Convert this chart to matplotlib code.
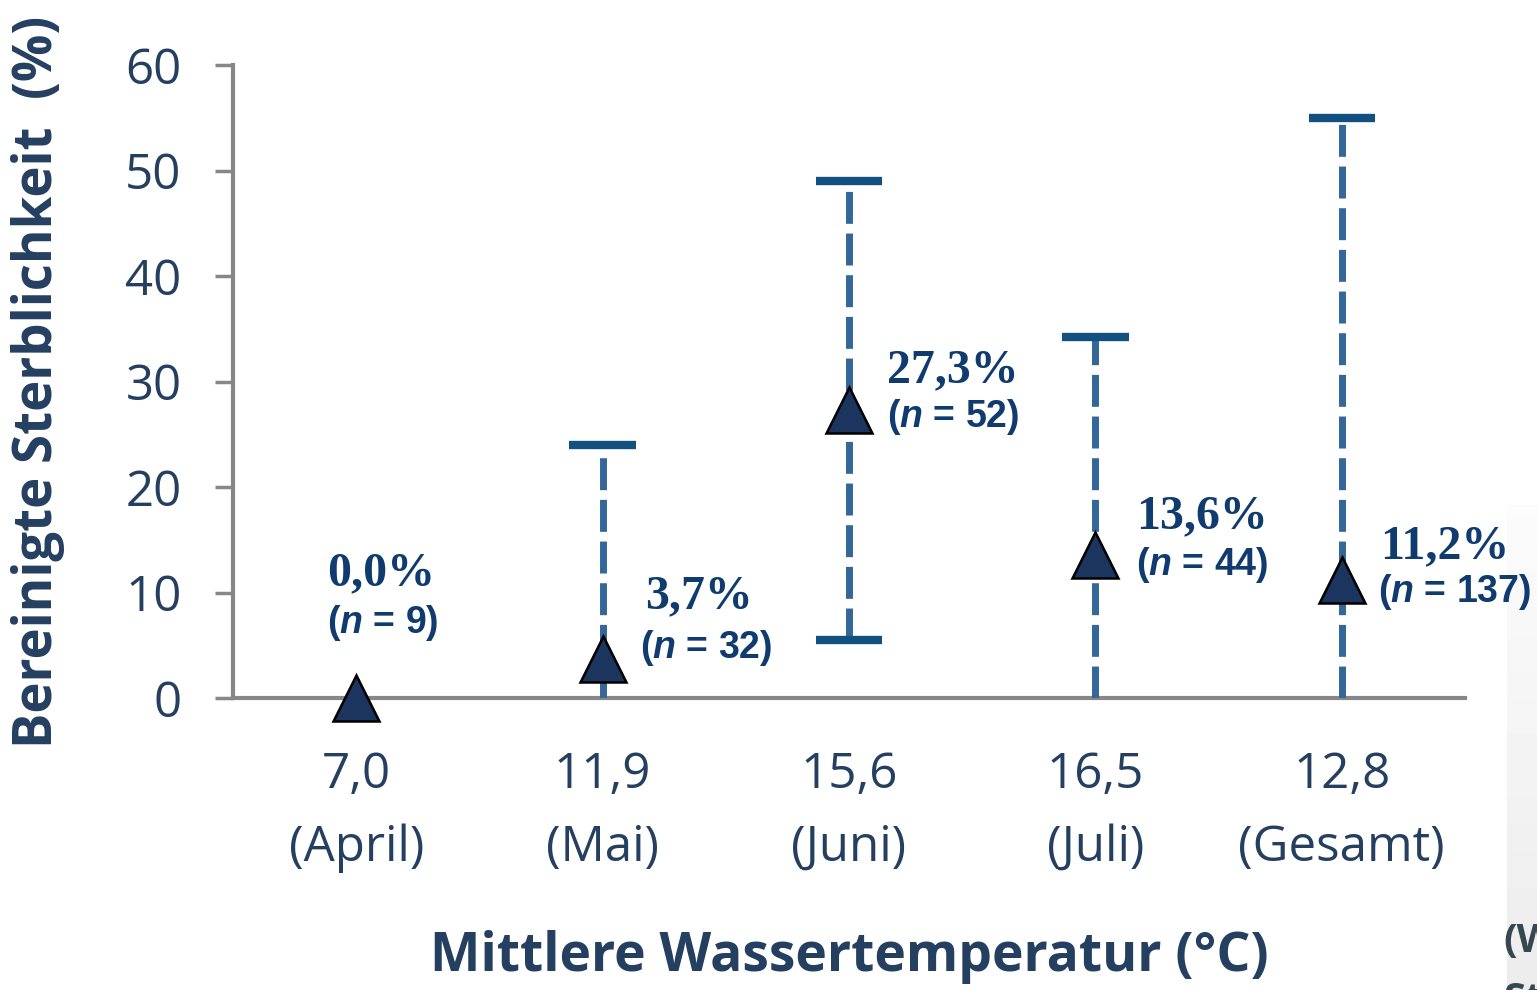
import numpy as np
import matplotlib
matplotlib.use('Agg')
import matplotlib.pyplot as plt

# Daten
kategorien = ["7,0\n(April)", "11,9\n(Mai)", "15,6\n(Juni)", "16,5\n(Juli)", "12,8\n(Gesamt)"]
sterblichkeit = [0.0, 3.7, 27.3, 13.6, 11.2]
n_werte = [9, 32, 52, 44, 137]
ki_unten = [None, 0.0, 5.5, 0.0, 0.0]
ki_oben = [None, 24.0, 49.0, 34.2, 55.0]

# Beschriftungs-Versatz in Pixeln (Prozent, n)
versatz_pct = [(-29, 113), (42, 51), (38, 28), (41, 26), (38, 22)]
versatz_n = [(-29, 65), (37, 1), (38, -17), (41, -20), (36, -22)]

plt.rcParams['mathtext.fontset'] = 'custom'
plt.rcParams['mathtext.it'] = 'Liberation Sans:italic:bold'
plt.rcParams['mathtext.rm'] = 'Liberation Sans:bold'

achse_farbe = '#878787'
text_farbe = '#243f60'
label_farbe = '#0f3b6f'
dash_farbe = '#336699'
cap_farbe = '#12507f'
dreieck_farbe = '#1c355e'

fig = plt.figure(figsize=(15.37, 9.90), dpi=100)

# grauer Rand rechts (Ausschnitt der Folie), hinter allem
rand = fig.add_axes([1507 / 1537, 0, 30 / 1537, 485 / 990], zorder=-1)
verlauf = np.linspace(0.985, 0.925, 100).reshape(-1, 1)
rand.imshow(verlauf, cmap='gray', vmin=0, vmax=1, aspect='auto')
rand.set_axis_off()

ax = fig.add_axes([233 / 1537, 292 / 990, 1232 / 1537, 633 / 990])
ax.patch.set_alpha(0)

x = np.arange(len(kategorien))

# Konfidenzintervalle
for i in range(len(x)):
    if ki_oben[i] is None:
        continue
    ax.plot([x[i], x[i]], [ki_unten[i], ki_oben[i]], color=dash_farbe, lw=5,
            dashes=(4.6, 1.4), solid_capstyle='butt', dash_capstyle='butt', zorder=2)
    ax.plot([x[i] - 0.135, x[i] + 0.135], [ki_oben[i], ki_oben[i]], color=cap_farbe,
            lw=6, solid_capstyle='butt', zorder=3)
    if ki_unten[i] > 0:
        ax.plot([x[i] - 0.135, x[i] + 0.135], [ki_unten[i], ki_unten[i]], color=cap_farbe,
                lw=6, solid_capstyle='butt', zorder=3)

ax.plot(x, sterblichkeit, linestyle='none', marker='^', markersize=33,
        markerfacecolor=dreieck_farbe, markeredgecolor='black', markeredgewidth=1.8,
        zorder=5, clip_on=False)

for i in range(len(x)):
    pct = f"{sterblichkeit[i]:.1f}".replace('.', ',') + '%'
    ax.annotate(pct, (x[i], sterblichkeit[i]), xytext=versatz_pct[i], textcoords='offset pixels',
                ha='left', va='baseline', fontsize=34.5, fontweight='bold',
                family='Liberation Serif', color=label_farbe, zorder=6)
    ax.annotate("(" + r"$n$" + f" = {n_werte[i]})", (x[i], sterblichkeit[i]), xytext=versatz_n[i],
                textcoords='offset pixels', ha='left', va='baseline', fontsize=27,
                fontweight='bold', family='Liberation Sans', color=label_farbe, zorder=6)

ax.set_xlim(-0.5, 4.5)
ax.set_ylim(0, 60)
ax.set_yticks([0, 10, 20, 30, 40, 50, 60])
ax.set_xticks(x)
ax.set_xticklabels(kategorien, linespacing=1.62)

for s in ['top', 'right']:
    ax.spines[s].set_visible(False)
for s in ['left', 'bottom']:
    ax.spines[s].set_color(achse_farbe)
    ax.spines[s].set_linewidth(3)
    ax.spines[s].set_zorder(1)

ax.tick_params(axis='y', direction='out', length=13, width=2.5, color=achse_farbe,
               pad=24, labelsize=35.5, labelcolor=text_farbe)
ax.tick_params(axis='x', length=0, pad=38, labelsize=35.5, labelcolor=text_farbe)
for t in ax.get_xticklabels() + ax.get_yticklabels():
    t.set_family('Open Sans')

fig.text(38 / 1537, 1 - 382 / 990, "Bereinigte Sterblichkeit  (%)", rotation=90,
         ha='center', va='center', fontsize=38, fontweight='bold', family='Open Sans',
         color=text_farbe)
fig.text(849 / 1537, 1 - 957 / 990, "Mittlere Wassertemperatur (°C)", ha='center', va='center',
         fontsize=38.5, fontweight='bold', family='Open Sans', color=text_farbe)

fig.text(1503 / 1537, 1 - 941 / 990, "(W", fontsize=29, fontweight='bold', family='Open Sans',
         color='#37474f', ha='left', va='center')
fig.text(1503 / 1537, 1 - 1000 / 990, "St", fontsize=29, fontweight='bold', family='Open Sans',
         color='#37474f', ha='left', va='center')

fig.savefig('out.png', dpi=100)
